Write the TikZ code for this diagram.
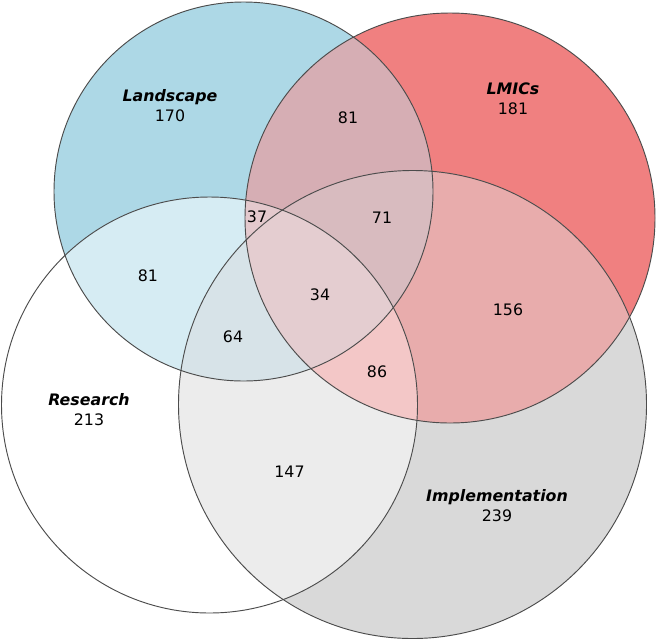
\documentclass[tikz,border=0pt]{standalone}
\usepackage{fontspec}
\setmainfont{DejaVu Sans}
\usetikzlibrary{positioning}
\usepackage{color}

% region colours
\definecolor{fillL}{RGB}{173,216,230}
\definecolor{fillM}{RGB}{240,128,128}
\definecolor{fillR}{RGB}{255,255,255}
\definecolor{fillI}{RGB}{217,217,217}
\definecolor{fillLM}{RGB}{214,174,180}
\definecolor{fillLR}{RGB}{214,236,243}
\definecolor{fillLI}{RGB}{195,217,224}
\definecolor{fillMR}{RGB}{248,192,192}
\definecolor{fillMI}{RGB}{232,172,172}
\definecolor{fillRI}{RGB}{236,236,236}
\definecolor{fillLMR}{RGB}{228,201,205}
\definecolor{fillLMI}{RGB}{216,187,191}
\definecolor{fillLRI}{RGB}{215,227,232}
\definecolor{fillMRI}{RGB}{243,199,199}
\definecolor{fillLMRI}{RGB}{228,205,208}

\begin{document}
\begin{tikzpicture}[
x=0.03cm, y=-0.03cm,
setnode/.style={align=center, anchor=south, inner sep=0pt, font=\fontsize{13.5}{17}\selectfont},
countnode/.style={inner sep=0pt, font=\fontsize{13.5}{17}\selectfont},
outline/.style={draw=black!70, line width=0.8pt},
]
\useasboundingbox (0,0) rectangle (657,641);

%Centres
\coordinate (c_land) at (243.5,191.5);
\coordinate (c_lmic) at (450,218);
\coordinate (c_res)  at (209.5,405);
\coordinate (c_impl) at (412.5,404.5);

%Single sets
\fill[fillL] (c_land) circle (189.5);
\fill[fillM] (c_lmic) circle (205);
\fill[fillR] (c_res) circle (208);
\fill[fillI] (c_impl) circle (234);

%Pairs
\begin{scope}
\clip (c_land) circle (189.5);
\fill[fillLM] (c_lmic) circle (205);
\fill[fillLR] (c_res) circle (208);
\fill[fillLI] (c_impl) circle (234);
\end{scope}
\begin{scope}
\clip (c_lmic) circle (205);
\fill[fillMR] (c_res) circle (208);
\fill[fillMI] (c_impl) circle (234);
\end{scope}
\begin{scope}
\clip (c_res) circle (208);
\fill[fillRI] (c_impl) circle (234);
\end{scope}

%Triples
\begin{scope}
\clip (c_land) circle (189.5);
\clip (c_lmic) circle (205);
\fill[fillLMR] (c_res) circle (208);
\fill[fillLMI] (c_impl) circle (234);
\end{scope}
\begin{scope}
\clip (c_res) circle (208);
\clip (c_impl) circle (234);
\fill[fillLRI] (c_land) circle (189.5);
\fill[fillMRI] (c_lmic) circle (205);
\end{scope}

%All four
\begin{scope}
\clip (c_land) circle (189.5);
\clip (c_lmic) circle (205);
\clip (c_res) circle (208);
\fill[fillLMRI] (c_impl) circle (234);
\end{scope}

%Outlines
\draw[outline] (c_land) circle (189.5);
\draw[outline] (c_lmic) circle (205);
\draw[outline] (c_res) circle (208);
\draw[outline] (c_impl) circle (234);

%Set labels
\node[setnode] at (170,122.3)   (set_land)  [] {\textbf{\textit{Landscape}}\\170};
\node[setnode] at (513,115)     (set_lmic)  [] {\textbf{\textit{LMICs}}\\181};
\node[setnode] at (89,426)      (set_res)   [] {\textbf{\textit{Research}}\\213};
\node[setnode] at (497,522.3)   (set_impl)  [] {\textbf{\textit{Implementation}}\\239};

%Counts
\node[countnode] at (348,118)   (n_lm)   [] {81};
\node[countnode] at (382,218)   (n_lmi)  [] {71};
\node[countnode] at (508,310)   (n_mi)   [] {156};
\node[countnode] at (257,217)   (n_lmr)  [] {37};
\node[countnode] at (148,275.5) (n_lr)   [] {81};
\node[countnode] at (320,295)   (n_all)  [] {34};
\node[countnode] at (233,337)   (n_lri)  [] {64};
\node[countnode] at (289.5,472) (n_ri)   [] {147};
\node[countnode] at (377,372)   (n_mri)  [] {86};

\end{tikzpicture}
\end{document}
